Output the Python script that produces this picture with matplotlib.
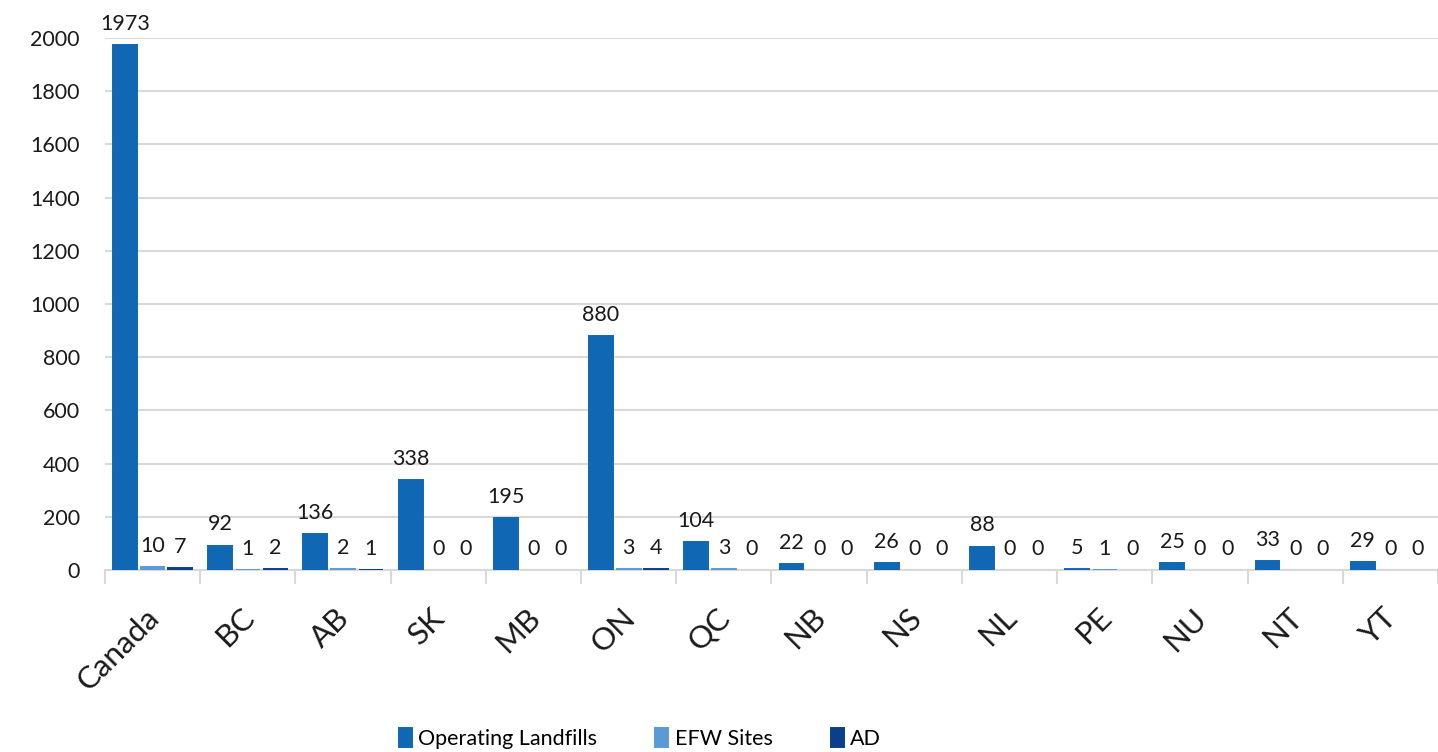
import numpy as np
import matplotlib
matplotlib.use("Agg")
import matplotlib.pyplot as plt
import matplotlib.transforms as mtransforms

# DATOS
provincias = ["Canada", "BC", "AB", "SK", "MB", "ON", "QC", "NB", "NS", "NL", "PE", "NU", "NT", "YT"]
landfills = [1973, 92, 136, 338, 195, 880, 104, 22, 26, 88, 5, 25, 33, 29]
efw = [10, 1, 2, 0, 0, 3, 3, 0, 0, 0, 1, 0, 0, 0]
ad = [7, 2, 1, 0, 0, 4, 0, 0, 0, 0, 0, 0, 0, 0]

series = [("Operating Landfills", landfills, "#1067b3"),
          ("EFW Sites", efw, "#5b9bd5"),
          ("AD", ad, "#0a3f8c")]

plt.rcParams['font.family'] = ['Lato', 'DejaVu Sans']

fig = plt.figure(figsize=(14.38, 7.52), dpi=100)
ax = fig.add_axes([0.073, 0.242, 0.927, 0.7075])

x = np.arange(len(provincias))
ancho = 0.25
paso = 0.29

for k, (nombre, vals, color) in enumerate(series):
    pos = x + (k - 1) * paso
    # borde para que las barras pequeñas se vean (como en Excel)
    lw = [1.4 if v > 0 else 0 for v in vals]
    ax.bar(pos, vals, width=ancho, color=color, edgecolor=color,
           linewidth=lw, label=nombre, zorder=3)
    for xi, v in zip(pos, vals):
        ax.annotate(str(v), xy=(xi, v), xytext=(0, 8), textcoords='offset points',
                    ha='center', va='bottom', fontsize=15.5, color='#1a1a1a',
                    annotation_clip=False)

ax.set_xlim(-0.5, len(provincias) - 0.5)
ax.set_ylim(0, 2000)
ax.set_yticks(range(0, 2001, 200))
ax.yaxis.grid(True, color='#d9d9d9', linewidth=1.5, zorder=0)
ax.set_axisbelow(True)

# etiquetas de categoria (giradas 45 grados)
ax.set_xticks(x)
ax.set_xticklabels([])
desplazar = mtransforms.ScaledTranslation(12 / 100, -33 / 100, fig.dpi_scale_trans)
for xi, nombre in zip(x, provincias):
    ax.text(xi, 0, nombre, transform=ax.get_xaxis_transform() + desplazar,
            rotation=45, ha='right', va='top', fontsize=22.5, color='#1a1a1a')

ax.set_xticks(np.arange(-0.5, len(provincias), 1), minor=True)
ax.tick_params(axis='x', which='major', length=0)
ax.tick_params(axis='x', which='minor', length=10, width=1.5, color='#d9d9d9')
ax.tick_params(axis='y', length=0, pad=18, labelsize=15.5, labelcolor='#1a1a1a')

for s in ['top', 'right', 'left']:
    ax.spines[s].set_visible(False)
ax.spines['bottom'].set_color('#d9d9d9')
ax.spines['bottom'].set_linewidth(1.5)

fig.legend(loc='lower center', bbox_to_anchor=(0.445, -0.022), ncol=3,
           frameon=False, fontsize=15.5, handlelength=0.6, handleheight=0.95,
           handletextpad=0.3, columnspacing=2.7)

fig.savefig("out.png", dpi=100)
